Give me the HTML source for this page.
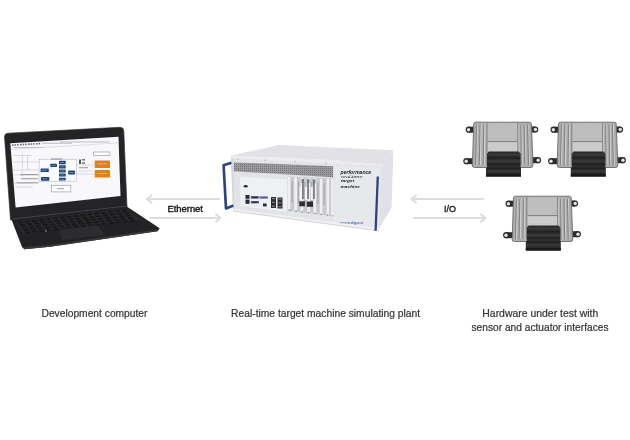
<!DOCTYPE html>
<html><head><meta charset="utf-8">
<style>
html,body{margin:0;padding:0;background:#fff;}
body{width:630px;height:440px;overflow:hidden;position:relative;font-family:"Liberation Sans",sans-serif;}
svg{position:absolute;left:0;top:0;filter:blur(0.35px);}
</style></head>
<body>
<svg width="630" height="440" viewBox="0 0 630 440">
<defs>
  <pattern id="vent" width="2" height="2" patternUnits="userSpaceOnUse">
    <rect width="2" height="2" fill="#9a9a9c"/>
    <rect width="1" height="1" fill="#767678"/>
  </pattern>
  <linearGradient id="ecuBody" x1="0" y1="0" x2="1" y2="0">
    <stop offset="0" stop-color="#acacac"/>
    <stop offset="0.5" stop-color="#bcbcbc"/>
    <stop offset="1" stop-color="#a8a8a8"/>
  </linearGradient>
</defs>

<!-- ============ LAPTOP ============ -->
<!-- lid -->
<path d="M4.5,137 Q4.4,133.4 8,133.2 L119.8,127.3 Q123.6,127.2 123.8,131 L127,207 L10.5,220 Z" fill="#242426" stroke="#38383a" stroke-width="0.7"/>
<!-- base -->
<path d="M10.8,217.8 L124.5,205 L159.6,228.3 L157.5,231.2 L50,246.8 L24.3,249.2 L22,247 Z" fill="#222224"/>
<path d="M24.3,249.2 L50,246.8 L157.5,231.2 L159.6,228.3 L157,229.6 L50,245 L23.3,247.3 Z" fill="#3a3a3c"/>
<!-- hinge highlight -->
<path d="M12,219 L125.5,206.2" stroke="#4a4a4c" stroke-width="0.8"/>
<!-- keyboard -->
<path d="M16,221.5 L127,209 L141.5,219.5 L23.5,234 Z" fill="#2a2a2c"/>
<g transform="matrix(6.94,-0.78,1.9,2.5,16,221.5)" fill="#18181a">
<rect x="0.14" y="0.16" width="0.74" height="0.68"/><rect x="1.14" y="0.16" width="0.74" height="0.68"/><rect x="2.14" y="0.16" width="0.74" height="0.68"/><rect x="3.14" y="0.16" width="0.74" height="0.68"/><rect x="4.14" y="0.16" width="0.74" height="0.68"/><rect x="5.14" y="0.16" width="0.74" height="0.68"/><rect x="6.14" y="0.16" width="0.74" height="0.68"/><rect x="7.14" y="0.16" width="0.74" height="0.68"/><rect x="8.14" y="0.16" width="0.74" height="0.68"/><rect x="9.14" y="0.16" width="0.74" height="0.68"/><rect x="10.14" y="0.16" width="0.74" height="0.68"/><rect x="11.14" y="0.16" width="0.74" height="0.68"/><rect x="12.14" y="0.16" width="0.74" height="0.68"/><rect x="13.14" y="0.16" width="0.74" height="0.68"/><rect x="14.14" y="0.16" width="0.74" height="0.68"/><rect x="15.14" y="0.16" width="0.74" height="0.68"/><rect x="0.14" y="1.16" width="0.74" height="0.68"/><rect x="1.14" y="1.16" width="0.74" height="0.68"/><rect x="2.14" y="1.16" width="0.74" height="0.68"/><rect x="3.14" y="1.16" width="0.74" height="0.68"/><rect x="4.14" y="1.16" width="0.74" height="0.68"/><rect x="5.14" y="1.16" width="0.74" height="0.68"/><rect x="6.14" y="1.16" width="0.74" height="0.68"/><rect x="7.14" y="1.16" width="0.74" height="0.68"/><rect x="8.14" y="1.16" width="0.74" height="0.68"/><rect x="9.14" y="1.16" width="0.74" height="0.68"/><rect x="10.14" y="1.16" width="0.74" height="0.68"/><rect x="11.14" y="1.16" width="0.74" height="0.68"/><rect x="12.14" y="1.16" width="0.74" height="0.68"/><rect x="13.14" y="1.16" width="0.74" height="0.68"/><rect x="14.14" y="1.16" width="0.74" height="0.68"/><rect x="15.14" y="1.16" width="0.74" height="0.68"/><rect x="0.14" y="2.16" width="0.74" height="0.68"/><rect x="1.14" y="2.16" width="0.74" height="0.68"/><rect x="2.14" y="2.16" width="0.74" height="0.68"/><rect x="3.14" y="2.16" width="0.74" height="0.68"/><rect x="4.14" y="2.16" width="0.74" height="0.68"/><rect x="5.14" y="2.16" width="0.74" height="0.68"/><rect x="6.14" y="2.16" width="0.74" height="0.68"/><rect x="7.14" y="2.16" width="0.74" height="0.68"/><rect x="8.14" y="2.16" width="0.74" height="0.68"/><rect x="9.14" y="2.16" width="0.74" height="0.68"/><rect x="10.14" y="2.16" width="0.74" height="0.68"/><rect x="11.14" y="2.16" width="0.74" height="0.68"/><rect x="12.14" y="2.16" width="0.74" height="0.68"/><rect x="13.14" y="2.16" width="0.74" height="0.68"/><rect x="14.14" y="2.16" width="0.74" height="0.68"/><rect x="15.14" y="2.16" width="0.74" height="0.68"/><rect x="0.14" y="3.16" width="0.74" height="0.68"/><rect x="1.14" y="3.16" width="0.74" height="0.68"/><rect x="2.14" y="3.16" width="0.74" height="0.68"/><rect x="3.14" y="3.16" width="0.74" height="0.68"/><rect x="4.14" y="3.16" width="0.74" height="0.68"/><rect x="5.14" y="3.16" width="0.74" height="0.68"/><rect x="6.14" y="3.16" width="0.74" height="0.68"/><rect x="7.14" y="3.16" width="0.74" height="0.68"/><rect x="8.14" y="3.16" width="0.74" height="0.68"/><rect x="9.14" y="3.16" width="0.74" height="0.68"/><rect x="10.14" y="3.16" width="0.74" height="0.68"/><rect x="11.14" y="3.16" width="0.74" height="0.68"/><rect x="12.14" y="3.16" width="0.74" height="0.68"/><rect x="13.14" y="3.16" width="0.74" height="0.68"/><rect x="14.14" y="3.16" width="0.74" height="0.68"/><rect x="15.14" y="3.16" width="0.74" height="0.68"/><rect x="0.14" y="4.16" width="0.74" height="0.68"/><rect x="1.14" y="4.16" width="0.74" height="0.68"/><rect x="2.14" y="4.16" width="0.74" height="0.68"/><rect x="3.14" y="4.16" width="0.74" height="0.68"/><rect x="4.14" y="4.16" width="0.74" height="0.68"/><rect x="5.14" y="4.16" width="0.74" height="0.68"/><rect x="6.14" y="4.16" width="0.74" height="0.68"/><rect x="7.14" y="4.16" width="0.74" height="0.68"/><rect x="8.14" y="4.16" width="0.74" height="0.68"/><rect x="9.14" y="4.16" width="0.74" height="0.68"/><rect x="10.14" y="4.16" width="0.74" height="0.68"/><rect x="11.14" y="4.16" width="0.74" height="0.68"/><rect x="12.14" y="4.16" width="0.74" height="0.68"/><rect x="13.14" y="4.16" width="0.74" height="0.68"/><rect x="14.14" y="4.16" width="0.74" height="0.68"/><rect x="15.14" y="4.16" width="0.74" height="0.68"/>
</g>
<circle cx="46" cy="231" r="0.8" fill="#9a9a9a"/>
<!-- touchpad -->
<path d="M59.3,229.8 L97.5,225.2 L105.5,235 L62,240.3 Z" fill="#2c2c2e"/>
<!-- screen -->
<path d="M10.3,143.3 L118.5,136.7 L120.5,196 L15.6,207.5 Z" fill="#f8f8fa"/>
<!-- screen content -->
<g fill="#6a6e76">
  <rect x="12" y="144.3" width="1.6" height="1.6"/><rect x="14.5" y="144.2" width="1.6" height="1.6"/><rect x="17" y="144" width="1.6" height="1.6"/>
  <rect x="20" y="143.9" width="1.6" height="1.6"/><rect x="22.5" y="143.7" width="1.6" height="1.6"/><rect x="25" y="143.6" width="1.6" height="1.6"/>
  <rect x="28" y="143.4" width="1.6" height="1.6"/><rect x="30.5" y="143.3" width="1.6" height="1.6"/><rect x="33" y="143.1" width="1.6" height="1.6"/>
  <rect x="36" y="143" width="1.6" height="1.6"/><rect x="38.5" y="142.8" width="1.6" height="1.6"/>
</g>
<g fill="#b4b8c0">
  <rect x="42" y="142.7" width="30" height="1"/>
  <rect x="14" y="147" width="30" height="0.9"/>
  <rect x="60" y="141.5" width="50" height="0.9"/>
</g>
<path d="M10.6,149.4 L118.7,142.8" stroke="#c8ccd4" stroke-width="0.6"/>
<g stroke="#b9bcc4" stroke-width="0.5" fill="none">
  <path d="M13,155.5 L32,155.5 M13,162 L39,162 M22.3,153 L22.3,176 M27.5,155 L27.5,170 M13,170 L39,170 M13,175 L39,175 M14,183 L33,183 M14,187 L33,187 M49,171 L58,171 M57,165 L59,165 M65,172 L68,172 M76,165 L94,165 M76,174 L94,174 M79,171 L92,171"/>
</g>
<rect x="39.1" y="159.2" width="37.3" height="22" fill="#fafbfd" stroke="#a7acb6" stroke-width="0.5"/>
<rect x="51" y="158.5" width="11" height="1" fill="#8a8f99"/>
<g fill="#1f4278">
  <rect x="40.6" y="168.4" width="8.2" height="3.6" rx="0.6"/>
  <rect x="40.9" y="177.1" width="8.4" height="3.6" rx="0.6"/>
  <rect x="50.3" y="163.8" width="6.7" height="3.1" rx="0.6"/>
  <rect x="59" y="160.7" width="6.7" height="3.6" rx="0.6"/>
  <rect x="59" y="165.3" width="6.7" height="3.2" rx="0.6"/>
  <rect x="59" y="169.4" width="6.7" height="3.1" rx="0.6"/>
  <rect x="59" y="173.5" width="6.7" height="3" rx="0.6"/>
  <rect x="59" y="177.8" width="6.7" height="2.8" rx="0.6"/>
  <rect x="68.2" y="170.4" width="6.7" height="4.1" rx="0.6"/>
</g>
<g fill="#8fa4c8">
  <rect x="42" y="169.8" width="5" height="0.7"/><rect x="42.3" y="178.5" width="5" height="0.7"/><rect x="51.5" y="165" width="4" height="0.6"/>
  <rect x="60.2" y="162.2" width="4" height="0.6"/><rect x="60.2" y="166.6" width="4" height="0.6"/><rect x="60.2" y="170.6" width="4" height="0.6"/>
  <rect x="60.2" y="174.7" width="4" height="0.6"/><rect x="60.2" y="178.9" width="4" height="0.6"/><rect x="69.5" y="172.1" width="4" height="0.7"/>
</g>
<rect x="51.4" y="185.3" width="19.4" height="6.6" fill="#fff" stroke="#9a9ea6" stroke-width="0.7"/>
<rect x="57" y="188.2" width="7" height="1" fill="#9a9ea6"/>
<g fill="#50545c">
  <rect x="79" y="159.5" width="2" height="4.5"/><rect x="82" y="159.2" width="3" height="1.2"/><rect x="82" y="162.5" width="3" height="1.2"/>
</g>
<g fill="#8a8e96">
  <rect x="79" y="167.3" width="9" height="0.9"/><rect x="20" y="174.2" width="18" height="0.9"/><rect x="21" y="178.3" width="17" height="0.9"/><rect x="16.5" y="182.4" width="22" height="0.9"/>
</g>
<rect x="93.7" y="152" width="16.3" height="3.7" fill="#fff" stroke="#8a8e96" stroke-width="0.6"/>
<g fill="#e07f28">
  <rect x="94.7" y="160.5" width="15.3" height="7.5" rx="0.5"/>
  <rect x="94.7" y="170.1" width="15.3" height="7.5" rx="0.5"/>
</g>
<g fill="#f2b47a">
  <rect x="97" y="163.5" width="10" height="0.8"/><rect x="97" y="173" width="10" height="0.8"/>
</g>

<!-- ============ ARROWS ============ -->
<g stroke="#dcdcdc" stroke-width="2" fill="none" stroke-linecap="round" stroke-linejoin="round">
  <path d="M147,199 L219,199 M151.5,195.3 L147,199 L151.5,202.7"/>
  <path d="M150,218 L220.5,218 M216,214.3 L220.5,218 L216,221.7"/>
  <path d="M411.5,199 L483,199 M416,195.3 L411.5,199 L416,202.7"/>
  <path d="M414,218 L485.5,218 M481,214.3 L485.5,218 L481,221.7"/>
</g>
<text x="185.2" y="212" font-family="Liberation Sans" font-size="9.2" fill="#1a1a1a" text-anchor="middle" textLength="35.5" lengthAdjust="spacingAndGlyphs" stroke="#1a1a1a" stroke-width="0.4">Ethernet</text>
<text x="450" y="212.3" font-family="Liberation Sans" font-size="9" fill="#1a1a1a" text-anchor="middle" textLength="12" lengthAdjust="spacingAndGlyphs" stroke="#1a1a1a" stroke-width="0.35">I/O</text>

<!-- ============ SERVER ============ -->
<!-- top -->
<path d="M230.8,155.5 L279,145 L393.4,150.2 L382.5,164.5 L330,160 Z" fill="#e1e1e6"/>
<!-- side -->
<path d="M382.5,164.5 L393.4,150.2 L391.5,208 L377.5,230.8 Z" fill="#e0e1e6"/>
<!-- front frame -->
<path d="M230.8,155.5 L330,160 L382.5,164.5 L379,231 L233,211 Z" fill="#e3e4e8"/>
<!-- top band -->
<path d="M231,155.7 L330,160.2 L382,164.7 L381.8,166.5 L231,158 Z" fill="#ececef"/>
<g fill="#9a9aa0"><circle cx="238" cy="159" r="0.6"/><circle cx="265" cy="160.2" r="0.6"/><circle cx="295" cy="161.6" r="0.6"/><circle cx="326" cy="163" r="0.6"/></g>
<!-- vent -->
<path d="M233.7,162.4 L333,166.3 L333,177.3 L233.7,171.2 Z" fill="url(#vent)"/>
<!-- left frame strip -->
<path d="M231,158 L233.7,158.2 L234.5,210.5 L233,211 Z" fill="#d6d7dc"/>
<!-- io panel -->
<path d="M235,172.5 L287.5,176.3 L287.5,214.5 L235.5,207.5 Z" fill="#e2e3e7"/>
<path d="M240,176.5 L287,179.5 L287,212 L240.5,206 Z" fill="#eff0f3"/>
<!-- pci slots -->
<g>
  <path d="M287.5,176.5 L334,178.5 L334,216.5 L287.5,210.5 Z" fill="#c9cacf"/>
  <g fill="#f0f0f3">
    <rect x="287.6" y="177" width="2.8" height="32"/>
    <rect x="294.2" y="177.3" width="2.8" height="33"/>
    <rect x="300.6" y="177.6" width="2.6" height="33.5"/>
    <rect x="307.4" y="177.9" width="2.6" height="34"/>
    <rect x="313.6" y="178.2" width="2.6" height="34.5"/>
    <rect x="319.8" y="178.5" width="2.6" height="35"/>
    <rect x="326.6" y="178.8" width="2.6" height="35.5"/>
    <rect x="331.2" y="179" width="2.6" height="36"/>
  </g>
  <g fill="#a9aaaf">
    <rect x="291.5" y="181" width="1.2" height="22"/>
    <rect x="297.8" y="181.5" width="1.2" height="22"/>
    <rect x="304.3" y="182" width="1.2" height="22"/>
    <rect x="311" y="182" width="1.2" height="22"/>
    <rect x="317.2" y="182.5" width="1.2" height="22"/>
    <rect x="323.6" y="183" width="1.2" height="22"/>
  </g>
  <g fill="#7c7d82">
    <rect x="301.5" y="179" width="2.5" height="4"/><rect x="307" y="179.2" width="2.5" height="4"/><rect x="312.8" y="179.4" width="2.5" height="4"/>
    <rect x="302" y="182" width="1.8" height="17"/>
    <rect x="307.2" y="182" width="1.8" height="17"/>
    <rect x="313" y="182" width="1.8" height="17"/>
  </g>
  <g fill="#f4f4f6">
    <rect x="299.6" y="187" width="2" height="13"/>
    <rect x="305" y="187" width="2" height="13"/>
    <rect x="310.8" y="187" width="2" height="13"/>
  </g>
  <rect x="299.3" y="201.3" width="5.6" height="5" fill="#2e2e31"/>
  <rect x="306.8" y="201.5" width="6.2" height="5.3" fill="#2e2e31"/>
  <g fill="#8c8d92">
    <circle cx="290" cy="210.5" r="0.7"/><circle cx="296" cy="211.3" r="0.7"/><circle cx="302" cy="212" r="0.7"/><circle cx="308.5" cy="212.8" r="0.7"/><circle cx="315" cy="213.6" r="0.7"/><circle cx="321" cy="214.4" r="0.7"/><circle cx="327.5" cy="215.2" r="0.7"/>
  </g>
</g>
<!-- logo panel -->
<path d="M334.5,165.5 L380.5,168 L378.5,230.5 L334.5,224.5 Z" fill="#e7e8ec"/>
<g fill="#1c1e26" font-family="Liberation Sans">
  <text x="340.6" y="174.3" font-size="5.2" font-weight="bold" font-style="italic" textLength="30.5" lengthAdjust="spacingAndGlyphs">performance</text>
  <text x="341" y="178.4" font-size="3.4" font-style="italic" textLength="21.5" lengthAdjust="spacingAndGlyphs" fill="#2a2c34">real-time</text>
  <text x="341" y="182" font-size="4.3" font-weight="bold" font-style="italic" textLength="13.3" lengthAdjust="spacingAndGlyphs">target</text>
  <text x="340.6" y="188" font-size="3.5" font-style="italic" font-weight="bold" textLength="19.4" lengthAdjust="spacingAndGlyphs">machine</text>
</g>
<text x="339.5" y="223.6" font-size="3.2" fill="#3b5fb0" font-family="Liberation Sans" textLength="24" lengthAdjust="spacingAndGlyphs">speedgoat</text>
<!-- ports -->
<g fill="#2a2a2e">
  <ellipse cx="245.7" cy="186.2" rx="2" ry="1.3"/>
  <rect x="245.5" y="195" width="4" height="3.8"/>
  <rect x="245.5" y="199.6" width="4" height="4.2"/>
  <rect x="263" y="203.5" width="3.6" height="2.9"/>
</g>
<g fill="#2e2e32">
  <rect x="271" y="197" width="5" height="11"/>
  <rect x="277.5" y="197.5" width="5" height="11"/>
</g>
<g fill="#7e8088">
  <rect x="272" y="198" width="3" height="1.2"/><rect x="272" y="201.8" width="3" height="1.2"/><rect x="272" y="205.6" width="3" height="1.2"/>
  <rect x="278.5" y="198.5" width="3" height="1.2"/><rect x="278.5" y="202.3" width="3" height="1.2"/><rect x="278.5" y="206.1" width="3" height="1.2"/>
</g>
<g fill="#56628a">
  <rect x="250.8" y="196" width="8" height="2.7"/>
  <rect x="259.5" y="196.4" width="8.3" height="2.2"/>
  <rect x="250.8" y="201" width="8.2" height="2.4"/>
</g>
<g fill="#1e2236">
  <rect x="252" y="196.9" width="5.5" height="0.9"/>
  <rect x="252" y="201.8" width="5.5" height="0.9"/>
</g>
<!-- bottom strip -->
<path d="M233,211 L379,231 L379.2,228.3 L233.2,208.6 Z" fill="#f0f0f3"/>
<path d="M233,211 L379,231" stroke="#c6c7cc" stroke-width="0.7"/>
<!-- handles -->
<path d="M231.4,162.8 L223.6,165.2 L226,208.5 L233.4,205.5" fill="none" stroke="#2b4582" stroke-width="2.7" stroke-linejoin="round"/>
<path d="M377.8,176.5 L375.6,230.8" stroke="#2b4582" stroke-width="2.3"/>

<!-- ============ ECUs ============ -->
<g transform="translate(473,122.2)">
    <!-- tabs -->
    <g fill="#2c2c2c">
      <rect x="-4" y="4.5" width="5" height="6"/>
      <rect x="58.5" y="4.3" width="4" height="6"/>
      <rect x="-6.5" y="36" width="7.5" height="6"/>
      <rect x="59" y="35" width="6" height="6"/>
      <circle cx="-4.2" cy="7.5" r="3.1"/>
      <circle cx="62.2" cy="7.3" r="3.1"/>
      <circle cx="-6.6" cy="39" r="3.1"/>
      <circle cx="65" cy="38" r="3.1"/>
    </g>
    <g fill="#e2e2e2">
      <circle cx="-4.4" cy="7.5" r="1.7"/>
      <circle cx="62.4" cy="7.3" r="1.7"/>
      <circle cx="-6.8" cy="39" r="1.7"/>
      <circle cx="65.2" cy="38" r="1.7"/>
    </g>
    <!-- body -->
    <path d="M2.6,0 L56.6,0 Q58.2,0 58.4,1.8 L60,42.5 Q60.2,45.3 58,45.3 L1.5,45.3 Q-0.8,45.3 -0.6,43 L0.7,1.8 Q0.9,0 2.6,0 Z" fill="url(#ecuBody)" stroke="#6a6a6a" stroke-width="0.9"/>
    <path d="M15,1.2 L44,1.2 L44.3,19 L14.8,19 Z" fill="#bebebe"/>
    <path d="M14.8,19.8 L44.3,19.8 L44.5,29.4 L14.6,29.4 Z" fill="#cbcbcb"/>
    <line x1="14.8" y1="19.4" x2="44.3" y2="19.4" stroke="#7a7a7a" stroke-width="0.9"/>
    <g stroke="#d4d4d4" stroke-width="0.9">
      <line x1="4.6" y1="2.5" x2="3.6" y2="43"/>
      <line x1="8.1" y1="2.5" x2="7.4" y2="43"/>
      <line x1="11.8" y1="2.5" x2="11.3" y2="43"/>
      <line x1="45.6" y1="2.5" x2="45.9" y2="43"/>
      <line x1="48.8" y1="2.5" x2="49.3" y2="43"/>
      <line x1="52.2" y1="2.5" x2="52.9" y2="43"/>
      <line x1="55.6" y1="2.5" x2="56.5" y2="43"/>
    </g>
    <g stroke="#6e6e6e" stroke-width="0.7">
      <line x1="3.6" y1="2.5" x2="2.6" y2="43"/>
      <line x1="7" y1="2.5" x2="6.3" y2="43"/>
      <line x1="10.7" y1="2.5" x2="10.2" y2="43"/>
      <line x1="14" y1="1" x2="13.8" y2="43"/>
      <line x1="44.8" y1="1" x2="45" y2="43"/>
      <line x1="47.8" y1="2.5" x2="48.3" y2="43"/>
      <line x1="51.2" y1="2.5" x2="51.9" y2="43"/>
      <line x1="54.6" y1="2.5" x2="55.5" y2="43"/>
    </g>
    <!-- connector -->
    <path d="M15.8,29.4 L45.8,29.4 L47.6,31.5 L47.6,45 L48,46 L48,54.4 L13,54.4 L13,46 L14,45 L14,31.5 Z" fill="#2e2e2e"/>
    <g stroke="#1a1a1a" stroke-width="0.9">
      <line x1="14.3" y1="35.7" x2="47.3" y2="35.7"/>
      <line x1="14.3" y1="42" x2="47.3" y2="42"/>
      <line x1="13.3" y1="46" x2="47.7" y2="46"/>
    </g>
    <g stroke="#4a4a4a" stroke-width="0.7">
      <line x1="14.3" y1="32.5" x2="47.3" y2="32.5"/>
      <line x1="14.3" y1="39" x2="47.3" y2="39"/>
      <line x1="13.3" y1="49" x2="47.7" y2="49"/>
    </g>
    <rect x="13" y="51.6" width="35" height="2.8" fill="#1a1a1a"/>
  </g>
<g transform="translate(557.8,122.2)">
    <!-- tabs -->
    <g fill="#2c2c2c">
      <rect x="-4" y="4.5" width="5" height="6"/>
      <rect x="58.5" y="4.3" width="4" height="6"/>
      <rect x="-6.5" y="36" width="7.5" height="6"/>
      <rect x="59" y="35" width="6" height="6"/>
      <circle cx="-4.2" cy="7.5" r="3.1"/>
      <circle cx="62.2" cy="7.3" r="3.1"/>
      <circle cx="-6.6" cy="39" r="3.1"/>
      <circle cx="65" cy="38" r="3.1"/>
    </g>
    <g fill="#e2e2e2">
      <circle cx="-4.4" cy="7.5" r="1.7"/>
      <circle cx="62.4" cy="7.3" r="1.7"/>
      <circle cx="-6.8" cy="39" r="1.7"/>
      <circle cx="65.2" cy="38" r="1.7"/>
    </g>
    <!-- body -->
    <path d="M2.6,0 L56.6,0 Q58.2,0 58.4,1.8 L60,42.5 Q60.2,45.3 58,45.3 L1.5,45.3 Q-0.8,45.3 -0.6,43 L0.7,1.8 Q0.9,0 2.6,0 Z" fill="url(#ecuBody)" stroke="#6a6a6a" stroke-width="0.9"/>
    <path d="M15,1.2 L44,1.2 L44.3,19 L14.8,19 Z" fill="#bebebe"/>
    <path d="M14.8,19.8 L44.3,19.8 L44.5,29.4 L14.6,29.4 Z" fill="#cbcbcb"/>
    <line x1="14.8" y1="19.4" x2="44.3" y2="19.4" stroke="#7a7a7a" stroke-width="0.9"/>
    <g stroke="#d4d4d4" stroke-width="0.9">
      <line x1="4.6" y1="2.5" x2="3.6" y2="43"/>
      <line x1="8.1" y1="2.5" x2="7.4" y2="43"/>
      <line x1="11.8" y1="2.5" x2="11.3" y2="43"/>
      <line x1="45.6" y1="2.5" x2="45.9" y2="43"/>
      <line x1="48.8" y1="2.5" x2="49.3" y2="43"/>
      <line x1="52.2" y1="2.5" x2="52.9" y2="43"/>
      <line x1="55.6" y1="2.5" x2="56.5" y2="43"/>
    </g>
    <g stroke="#6e6e6e" stroke-width="0.7">
      <line x1="3.6" y1="2.5" x2="2.6" y2="43"/>
      <line x1="7" y1="2.5" x2="6.3" y2="43"/>
      <line x1="10.7" y1="2.5" x2="10.2" y2="43"/>
      <line x1="14" y1="1" x2="13.8" y2="43"/>
      <line x1="44.8" y1="1" x2="45" y2="43"/>
      <line x1="47.8" y1="2.5" x2="48.3" y2="43"/>
      <line x1="51.2" y1="2.5" x2="51.9" y2="43"/>
      <line x1="54.6" y1="2.5" x2="55.5" y2="43"/>
    </g>
    <!-- connector -->
    <path d="M15.8,29.4 L45.8,29.4 L47.6,31.5 L47.6,45 L48,46 L48,54.4 L13,54.4 L13,46 L14,45 L14,31.5 Z" fill="#2e2e2e"/>
    <g stroke="#1a1a1a" stroke-width="0.9">
      <line x1="14.3" y1="35.7" x2="47.3" y2="35.7"/>
      <line x1="14.3" y1="42" x2="47.3" y2="42"/>
      <line x1="13.3" y1="46" x2="47.7" y2="46"/>
    </g>
    <g stroke="#4a4a4a" stroke-width="0.7">
      <line x1="14.3" y1="32.5" x2="47.3" y2="32.5"/>
      <line x1="14.3" y1="39" x2="47.3" y2="39"/>
      <line x1="13.3" y1="49" x2="47.7" y2="49"/>
    </g>
    <rect x="13" y="51.6" width="35" height="2.8" fill="#1a1a1a"/>
  </g>
<g transform="translate(512.8,196.2)">
    <!-- tabs -->
    <g fill="#2c2c2c">
      <rect x="-4" y="4.5" width="5" height="6"/>
      <rect x="58.5" y="4.3" width="4" height="6"/>
      <rect x="-6.5" y="36" width="7.5" height="6"/>
      <rect x="59" y="35" width="6" height="6"/>
      <circle cx="-4.2" cy="7.5" r="3.1"/>
      <circle cx="62.2" cy="7.3" r="3.1"/>
      <circle cx="-6.6" cy="39" r="3.1"/>
      <circle cx="65" cy="38" r="3.1"/>
    </g>
    <g fill="#e2e2e2">
      <circle cx="-4.4" cy="7.5" r="1.7"/>
      <circle cx="62.4" cy="7.3" r="1.7"/>
      <circle cx="-6.8" cy="39" r="1.7"/>
      <circle cx="65.2" cy="38" r="1.7"/>
    </g>
    <!-- body -->
    <path d="M2.6,0 L56.6,0 Q58.2,0 58.4,1.8 L60,42.5 Q60.2,45.3 58,45.3 L1.5,45.3 Q-0.8,45.3 -0.6,43 L0.7,1.8 Q0.9,0 2.6,0 Z" fill="url(#ecuBody)" stroke="#6a6a6a" stroke-width="0.9"/>
    <path d="M15,1.2 L44,1.2 L44.3,19 L14.8,19 Z" fill="#bebebe"/>
    <path d="M14.8,19.8 L44.3,19.8 L44.5,29.4 L14.6,29.4 Z" fill="#cbcbcb"/>
    <line x1="14.8" y1="19.4" x2="44.3" y2="19.4" stroke="#7a7a7a" stroke-width="0.9"/>
    <g stroke="#d4d4d4" stroke-width="0.9">
      <line x1="4.6" y1="2.5" x2="3.6" y2="43"/>
      <line x1="8.1" y1="2.5" x2="7.4" y2="43"/>
      <line x1="11.8" y1="2.5" x2="11.3" y2="43"/>
      <line x1="45.6" y1="2.5" x2="45.9" y2="43"/>
      <line x1="48.8" y1="2.5" x2="49.3" y2="43"/>
      <line x1="52.2" y1="2.5" x2="52.9" y2="43"/>
      <line x1="55.6" y1="2.5" x2="56.5" y2="43"/>
    </g>
    <g stroke="#6e6e6e" stroke-width="0.7">
      <line x1="3.6" y1="2.5" x2="2.6" y2="43"/>
      <line x1="7" y1="2.5" x2="6.3" y2="43"/>
      <line x1="10.7" y1="2.5" x2="10.2" y2="43"/>
      <line x1="14" y1="1" x2="13.8" y2="43"/>
      <line x1="44.8" y1="1" x2="45" y2="43"/>
      <line x1="47.8" y1="2.5" x2="48.3" y2="43"/>
      <line x1="51.2" y1="2.5" x2="51.9" y2="43"/>
      <line x1="54.6" y1="2.5" x2="55.5" y2="43"/>
    </g>
    <!-- connector -->
    <path d="M15.8,29.4 L45.8,29.4 L47.6,31.5 L47.6,45 L48,46 L48,54.4 L13,54.4 L13,46 L14,45 L14,31.5 Z" fill="#2e2e2e"/>
    <g stroke="#1a1a1a" stroke-width="0.9">
      <line x1="14.3" y1="35.7" x2="47.3" y2="35.7"/>
      <line x1="14.3" y1="42" x2="47.3" y2="42"/>
      <line x1="13.3" y1="46" x2="47.7" y2="46"/>
    </g>
    <g stroke="#4a4a4a" stroke-width="0.7">
      <line x1="14.3" y1="32.5" x2="47.3" y2="32.5"/>
      <line x1="14.3" y1="39" x2="47.3" y2="39"/>
      <line x1="13.3" y1="49" x2="47.7" y2="49"/>
    </g>
    <rect x="13" y="51.6" width="35" height="2.8" fill="#1a1a1a"/>
  </g>

<!-- ============ LABELS ============ -->
<g font-family="Liberation Sans" font-size="10.5" fill="#353535" stroke="#353535" stroke-width="0.22" text-anchor="middle">
  <text x="94.5" y="316.9" textLength="106" lengthAdjust="spacingAndGlyphs">Development computer</text>
  <text x="325.6" y="317.2" textLength="189" lengthAdjust="spacingAndGlyphs">Real-time target machine simulating plant</text>
  <text x="540.3" y="317.2" textLength="116" lengthAdjust="spacingAndGlyphs">Hardware under test with</text>
  <text x="540" y="331" textLength="137" lengthAdjust="spacingAndGlyphs">sensor and actuator interfaces</text>
</g>
</svg>
</body></html>
